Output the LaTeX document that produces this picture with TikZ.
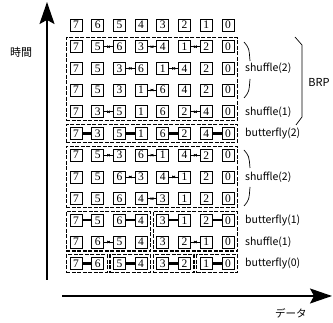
\documentclass[tikz,border=0pt]{standalone}
\usepackage{fontspec}
\setmainfont{Noto Sans CJK JP}
\newfontfamily\numfont{Liberation Serif}
\usetikzlibrary{arrows.meta,fit,decorations.markings}

\begin{document}
\begin{tikzpicture}[x=1pt,y=-1pt,
    numbox/.style={draw,line width=0.7pt,minimum size=12pt,inner sep=0pt,font=\numfont\fontsize{11.5}{11.5}\selectfont},
    swapline/.style={line width=0.6pt,postaction={decorate},decoration={markings,
      mark=at position 0.38 with {\arrowreversed{Latex[length=2.5pt,width=3pt]}},
      mark=at position 0.62 with {\arrow{Latex[length=2.5pt,width=3pt]}}}},
    flyline/.style={line width=2.4pt},
    grp/.style={draw,dash pattern=on 4pt off 1.5pt,line width=1.3pt,inner xsep=3.2pt,inner ysep=2.6pt},
    lbl/.style={anchor=west,inner sep=0pt,font=\fontsize{10.5}{10.5}\selectfont},
    axis/.style={line width=1.6pt,-{Stealth[length=22pt,width=15pt,inset=4pt]}}]
  \useasboundingbox (0,0) rectangle (333,323);
  % axes
  \coordinate (yfoot) at (47,280);
  \coordinate (ytip) at (47,2);
  \coordinate (xfoot) at (62,296);
  \coordinate (xtip) at (332,296);
  \draw[axis] (yfoot) -- (ytip);
  \draw[axis] (xfoot) -- (xtip);
  \node[font=\fontsize{11}{11}\selectfont] (time) at (21,52) {時間};
  \node[font=\fontsize{10.5}{10.5}\selectfont] (data) at (291,313) {データ};
  % boxes
  \foreach \rw/\vals in {0/{7,6,5,4,3,2,1,0},1/{7,5,6,3,4,1,2,0},2/{7,5,3,6,1,4,2,0},
      3/{7,5,3,1,6,4,2,0},4/{7,3,5,1,6,2,4,0},5/{7,3,5,1,6,2,4,0},6/{7,5,3,6,1,4,2,0},
      7/{7,5,6,3,4,1,2,0},8/{7,5,6,4,3,1,2,0},9/{7,5,6,4,3,1,2,0},10/{7,6,5,4,3,2,1,0},
      11/{7,6,5,4,3,2,1,0}}
    \foreach \v [count=\cl from 0] in \vals
      \node[numbox] (r\rw c\cl) at (76+21.7*\cl,25+21.7*\rw) {\v};
  % swaps
  \foreach \rw/\cl in {1/1,1/3,1/5,2/2,2/4,3/3,4/1,4/5,6/1,6/3,6/5,7/2,7/4,8/3,10/1,10/5}{
    \pgfmathtruncatemacro\nx{\cl+1}
    \draw[swapline] (r\rw c\cl) -- (r\rw c\nx);
  }
  % butterflies
  \foreach \rw in {5,9,11}
    \foreach \cl in {0,2,4,6}{
      \pgfmathtruncatemacro\nx{\cl+1}
      \draw[flyline] (r\rw c\cl) -- (r\rw c\nx);
    }
  % dashed groups
  \node[grp,fit=(r1c0)(r4c7)] (g1) {};
  \node[grp,fit=(r5c0)(r5c7)] (g2) {};
  \node[grp,fit=(r6c0)(r8c7)] (g3) {};
  \node[grp,fit=(r9c0)(r10c3)] (g4l) {};
  \node[grp,fit=(r9c4)(r10c7)] (g4r) {};
  \foreach \cl in {0,2,4,6}{
    \pgfmathtruncatemacro\nx{\cl+1}
    \node[grp,fit=(r11c\cl)(r11c\nx)] (g5c\cl) {};
  }
  % labels
  \node[lbl] (sh2a) at (245,68.4) {shuffle(2)};
  \node[lbl] (sh1a) at (245,111.8) {shuffle(1)};
  \node[lbl] (bf2) at (245,133.5) {butterfly(2)};
  \node[lbl] (sh2b) at (245,176.9) {shuffle(2)};
  \node[lbl] (bf1) at (245,220.3) {butterfly(1)};
  \node[lbl] (sh1b) at (245,242) {shuffle(1)};
  \node[lbl] (bf0) at (245,263.7) {butterfly(0)};
  \node[font=\fontsize{11}{11}\selectfont] (brp) at (319,82) {BRP};
  \draw[line width=0.7pt] (244,42) .. controls (249,48) .. (250,61);
  \draw[line width=0.7pt] (250,79) .. controls (249,92) .. (244,98);
  \draw[line width=0.7pt] (244,150) .. controls (249,156) .. (250,168);
  \draw[line width=0.7pt] (250,187) .. controls (249,200) .. (244,206);
  \draw[line width=0.7pt] (295,37) -- (302,45) -- (302,117) -- (296,125);
\end{tikzpicture}
\end{document}
